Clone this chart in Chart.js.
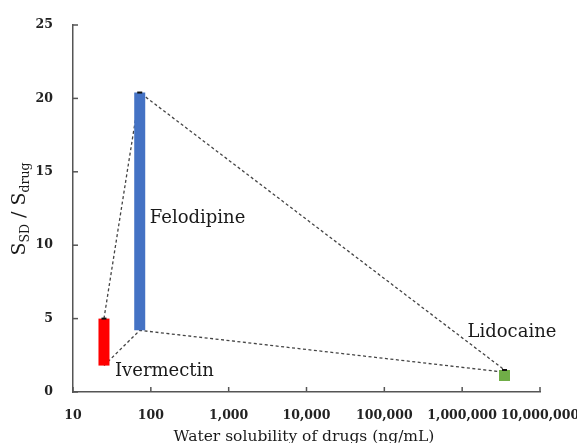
<!DOCTYPE html>
<html><head><meta charset="utf-8">
<script src="https://cdn.jsdelivr.net/npm/chart.js@4.4.1/dist/chart.umd.min.js"></script>
<style>html,body{margin:0;padding:0;background:#fff;}#wrap{width:577px;height:443px;position:relative;}</style>
</head><body><div id="wrap"><canvas id="c"></canvas></div>
<script>
// ---- data ----
const drugs = ['Ivermectin', 'Felodipine', 'Lidocaine'];
const solubility = [25, 72, 3500000];          // ng/mL
const ratioLow = [1.8, 4.2, 0.75];             // S_SD / S_drug range (bar bottom)
const ratioHigh = [5.0, 20.4, 1.5];            // bar top
const upperLink = [5.0, 20.4, 1.5];            // dashed link through the tops
const lowerLink = [1.8, 4.2, 1.35];            // dashed link through the bottoms
const barColors = ['#ff0000', '#4472c4', '#70ad47'];
const xTicks = [10, 100, 1000, 10000, 100000, 1000000, 10000000];
const yTicks = [0, 5, 10, 15, 20, 25];

// ---- label placement (pixel offsets from each bar) ----
const labelAnchor = [ratioLow[0], (ratioLow[1] + ratioHigh[1]) / 2, ratioHigh[2]];
const labelDx = [11, 10, -37];
const labelDy = [10.5, 11.5, -33];

const fmt = v => String(v).replace(/\B(?=(\d{3})+(?!\d))/g, ',');

const datasets = [];
drugs.forEach((d, i) => {
  datasets.push({
    label: d,
    data: [{x: solubility[i], y: ratioLow[i]}, {x: solubility[i], y: ratioHigh[i]}],
    borderColor: barColors[i], borderWidth: 11, borderCapStyle: 'butt',
    pointRadius: 0, order: 2
  });
});
datasets.push({
  label: 'caps',
  data: drugs.map((d, i) => ({x: solubility[i], y: ratioHigh[i]})),
  showLine: false, pointStyle: 'line', pointRadius: 2.5, borderColor: '#111',
  pointBorderWidth: 2, order: 1
});
datasets.push({
  label: 'upper',
  data: drugs.map((d, i) => ({x: solubility[i], y: upperLink[i]})),
  borderColor: '#444', borderWidth: 1.3, borderDash: [3, 2.5], pointRadius: 0, order: 5
});
datasets.push({
  label: 'lower',
  data: drugs.map((d, i) => ({x: solubility[i], y: lowerLink[i]})),
  borderColor: '#444', borderWidth: 1.3, borderDash: [3, 2.5], pointRadius: 0, order: 5
});

const decor = {
  id: 'decor',
  afterDraw(chart) {
    const {ctx, chartArea: a, scales: {x, y}} = chart;
    ctx.save();
    // inward tick marks
    ctx.strokeStyle = '#555'; ctx.lineWidth = 1.5;
    xTicks.forEach(v => { const p = x.getPixelForValue(v); ctx.beginPath(); ctx.moveTo(p, a.bottom); ctx.lineTo(p, a.bottom - 5); ctx.stroke(); });
    yTicks.forEach(v => { const p = y.getPixelForValue(v); ctx.beginPath(); ctx.moveTo(a.left, p); ctx.lineTo(a.left + 5, p); ctx.stroke(); });
    // drug labels
    ctx.fillStyle = '#1a1a1a';
    ctx.font = '18px "DejaVu Serif"';
    ctx.textAlign = 'left'; ctx.textBaseline = 'alphabetic';
    drugs.forEach((d, i) => {
      ctx.fillText(d, x.getPixelForValue(solubility[i]) + labelDx[i], y.getPixelForValue(labelAnchor[i]) + labelDy[i]);
    });
    // x title
    ctx.font = '15.5px "DejaVu Serif"';
    ctx.textAlign = 'center';
    ctx.fillText('Water solubility of drugs (ng/mL)', 304, 441);
    // y title with subscripts
    const parts = [['S', false], ['SD', true], [' / S', false], ['drug', true]];
    const fBig = '19px "DejaVu Serif"', fSmall = '12.5px "DejaVu Serif"';
    let total = 0;
    parts.forEach(p => { ctx.font = p[1] ? fSmall : fBig; total += ctx.measureText(p[0]).width; });
    ctx.translate(25, 209);
    ctx.rotate(-Math.PI / 2);
    ctx.textAlign = 'left';
    let cx = -total / 2;
    parts.forEach(p => {
      ctx.font = p[1] ? fSmall : fBig;
      ctx.fillText(p[0], cx, p[1] ? 4 : 0);
      cx += ctx.measureText(p[0]).width;
    });
    ctx.restore();
  }
};

new Chart(document.getElementById('c'), {
  type: 'line',
  data: {datasets},
  options: {
    responsive: true, maintainAspectRatio: false, animation: false,
    layout: {padding: {top: 25, right: 37, left: 0, bottom: 0}},
    plugins: {legend: {display: false}, tooltip: {enabled: false}},
    scales: {
      x: {
        type: 'logarithmic', min: 10, max: 10000000, position: 'bottom',
        afterBuildTicks: s => { s.ticks = xTicks.map(v => ({value: v})); },
        afterFit: s => { s.height = 51; s.paddingLeft = 0; s.paddingRight = 0; },
        grid: {display: false, drawTicks: false},
        border: {color: '#555', width: 1.5},
        ticks: {autoSkip: false, maxRotation: 0, padding: 16, color: '#222',
          font: {family: 'DejaVu Serif', weight: 'bold', size: 12.5},
          callback: v => fmt(v)}
      },
      y: {
        type: 'linear', min: 0, max: 25,
        afterBuildTicks: s => { s.ticks = yTicks.map(v => ({value: v})); },
        afterFit: s => { s.width = 73; s.paddingTop = 0; s.paddingBottom = 0; },
        grid: {display: false, drawTicks: false},
        border: {color: '#555', width: 1.5},
        ticks: {padding: 20, color: '#222',
          font: {family: 'DejaVu Serif', weight: 'bold', size: 12.5},
          callback: v => fmt(v)}
      }
    }
  },
  plugins: [decor]
});
</script></body></html>
